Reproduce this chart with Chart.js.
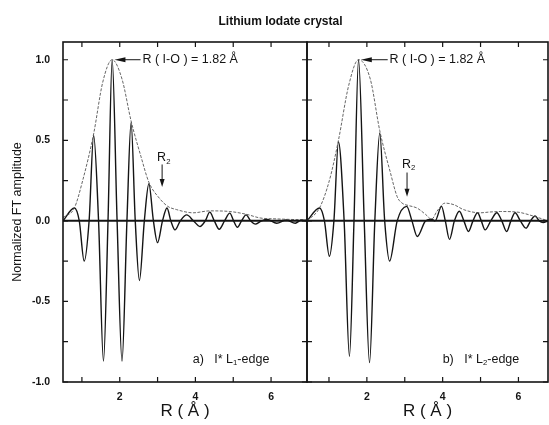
<!DOCTYPE html>
<html>
<head>
<meta charset="utf-8">
<script src="https://cdn.jsdelivr.net/npm/chart.js@4.4.1/dist/chart.umd.min.js"></script>
<style>
  html, body { margin: 0; padding: 0; background: #fff; }
  #wrap { position: relative; width: 549px; height: 425px; }
  #wrap canvas { position: absolute; left: 0; top: 0; }
  #title {
    position: absolute; left: 6px; top: 14px; width: 549px; text-align: center;
    font: bold 12px "Liberation Sans", Arial, sans-serif; color: #111;
  }
</style>
</head>
<body>
<div id="wrap">
  <canvas id="panelA" width="549" height="425"></canvas>
  <canvas id="panelB" width="549" height="425"></canvas>
  <div id="title">Lithium Iodate crystal</div>
</div>
<script>
// a) I* L1-edge : imaginary part (oscillating) and magnitude (envelope)
const rL1 = [0.50, 0.80, 0.93, 1.06, 1.19, 1.31, 1.44, 1.57, 1.69, 1.80, 1.93, 2.06, 2.19, 2.30, 2.41, 2.52,
  2.65, 2.77, 2.89, 3.00, 3.13, 3.25, 3.35, 3.46, 3.60, 3.77, 3.95, 4.12, 4.26, 4.38, 4.50, 4.63, 4.77,
  4.91, 5.01, 5.11, 5.22, 5.34, 5.46, 5.58, 5.75, 5.90, 6.15, 6.40, 6.64, 6.80, 6.95];
const imL1 = [0.00, 0.08, 0.00, -0.25, 0.00, 0.53, 0.00, -0.87, 0.00, 1.00, 0.00, -0.87, 0.00, 0.61, 0.00, -0.37,
  0.00, 0.23, 0.00, -0.135, 0.00, 0.08, 0.00, -0.056, 0.00, 0.037, 0.00, -0.035, 0.00, 0.054, 0.00, -0.052, 0.00,
  0.048, 0.00, -0.04, 0.00, 0.037, 0.00, -0.02, 0.00, 0.008, -0.015, 0.006, -0.015, 0.005, 0.00];
const envRL1 = [0.50, 0.80, 1.02, 1.31, 1.55, 1.80, 2.06, 2.30, 2.56, 2.77, 3.05, 3.27, 3.50, 3.94, 4.38, 4.91,
  5.36, 5.71, 6.15, 6.95];
const envL1 = [0.02, 0.08, 0.25, 0.54, 0.86, 1.00, 0.88, 0.62, 0.40, 0.24, 0.14, 0.09, 0.07, 0.05, 0.062, 0.058,
  0.04, 0.018, 0.012, 0.006];

// b) I* L2-edge
const rL2 = [0.42, 0.75, 0.88, 1.01, 1.13, 1.25, 1.40, 1.54, 1.66, 1.78, 1.93, 2.07, 2.21, 2.34, 2.47, 2.60,
  2.80, 3.05, 3.19, 3.33, 3.55, 3.71, 3.80, 3.97, 4.07, 4.18, 4.31, 4.44, 4.56, 4.68, 4.80, 4.92, 5.02,
  5.12, 5.27, 5.43, 5.56, 5.69, 5.80, 5.91, 6.05, 6.20, 6.32, 6.44, 6.55, 6.65, 6.78];
const imL2 = [0.00, 0.08, 0.00, -0.22, 0.00, 0.49, 0.00, -0.84, 0.00, 1.00, 0.00, -0.88, 0.00, 0.545, 0.00, -0.25,
  0.00, 0.09, 0.00, -0.097, 0.00, 0.01, 0.00, 0.09, 0.00, -0.115, 0.00, 0.06, 0.00, -0.066, 0.00, 0.05, 0.00,
  -0.056, 0.00, 0.05, 0.00, -0.066, 0.00, 0.05, 0.00, -0.045, 0.00, 0.03, 0.00, -0.01, 0.00];
const envRL2 = [0.42, 0.75, 1.01, 1.25, 1.52, 1.78, 2.09, 2.34, 2.62, 2.80, 2.93, 3.10, 3.32, 3.55, 3.71, 3.85,
  4.06, 4.30, 4.55, 4.99, 5.25, 5.52, 5.95, 6.39, 6.78];
const envL2 = [0.00, 0.08, 0.25, 0.50, 0.84, 1.00, 0.88, 0.56, 0.30, 0.15, 0.11, 0.095, 0.08, 0.04, 0.01, 0.06,
  0.11, 0.10, 0.07, 0.05, 0.055, 0.058, 0.055, 0.03, 0.00];

const yTicks = [-1.0, -0.75, -0.5, -0.25, 0.0, 0.25, 0.5, 0.75, 1.0];
const xLabels = [2, 4, 6];

const FONT = '"Liberation Sans", Arial, sans-serif';
const INK = '#141414';

function pts(xs, ys) {
  return xs.map((x, i) => ({ x: x, y: ys[i] }));
}

// draws text pieces, some as subscripts
function drawParts(ctx, parts, x, y, size) {
  let cx = x;
  parts.forEach(([txt, sub]) => {
    ctx.font = (sub ? size * 0.62 : size) + 'px ' + FONT;
    ctx.fillText(txt, cx, sub ? y + size * 0.28 : y);
    cx += ctx.measureText(txt).width;
  });
}

const frameTicks = {
  id: 'frameTicks',
  afterDatasetsDraw(chart) {
    const { ctx, chartArea: a, scales: { x, y } } = chart;
    ctx.save();
    ctx.strokeStyle = INK;
    ctx.lineWidth = 1.2;
    ctx.beginPath();
    x.ticks.forEach(t => {
      const px = x.getPixelForValue(t.value);
      ctx.moveTo(px, a.bottom); ctx.lineTo(px, a.bottom - 5);
      ctx.moveTo(px, a.top); ctx.lineTo(px, a.top + 5);
    });
    yTicks.forEach(v => {
      const py = y.getPixelForValue(v);
      ctx.moveTo(a.left, py); ctx.lineTo(a.left + 5, py);
      ctx.moveTo(a.right, py); ctx.lineTo(a.right - 5, py);
    });
    ctx.stroke();
    ctx.lineWidth = 1.6;
    ctx.strokeRect(a.left, a.top, a.right - a.left, a.bottom - a.top);
    ctx.restore();
  }
};

const notes = {
  id: 'notes',
  afterDraw(chart, args, o) {
    const { ctx, scales: { x, y } } = chart;
    ctx.save();
    ctx.fillStyle = INK;
    ctx.strokeStyle = INK;
    ctx.textBaseline = 'middle';
    ctx.lineWidth = 1;

    // peak label with arrow pointing at the maximum
    const py = y.getPixelForValue(o.peak.y);
    const x1 = x.getPixelForValue(o.peak.from), x2 = x.getPixelForValue(o.peak.to);
    ctx.beginPath(); ctx.moveTo(x1, py); ctx.lineTo(x2 + 6, py); ctx.stroke();
    ctx.beginPath(); ctx.moveTo(x2, py); ctx.lineTo(x2 + 11, py - 2.5); ctx.lineTo(x2 + 11, py + 2.5); ctx.closePath(); ctx.fill();
    ctx.font = '12.5px ' + FONT;
    ctx.fillText('R ( I-O ) = 1.82 Å', x.getPixelForValue(o.peak.text), py);

    // R2 marker
    const rx = x.getPixelForValue(o.r2.x);
    drawParts(ctx, [['R', false], ['2', true]], rx - 5, y.getPixelForValue(o.r2.text), 12.5);
    const ya = y.getPixelForValue(o.r2.from), yb = y.getPixelForValue(o.r2.to);
    ctx.beginPath(); ctx.moveTo(rx, ya); ctx.lineTo(rx, yb - 4); ctx.stroke();
    ctx.beginPath(); ctx.moveTo(rx, yb); ctx.lineTo(rx - 2.5, yb - 8); ctx.lineTo(rx + 2.5, yb - 8); ctx.closePath(); ctx.fill();

    // panel label
    drawParts(ctx, [[o.edge.tag + '   I* L', false], [o.edge.sub, true], ['-edge', false]],
      x.getPixelForValue(o.edge.x), y.getPixelForValue(o.edge.y), 12.5);
    ctx.restore();
  }
};

function panel(id, conf) {
  return new Chart(document.getElementById(id), {
    type: 'line',
    data: {
      datasets: [
        {
          data: [{ x: conf.min, y: 0 }, { x: conf.max, y: 0 }],
          borderColor: INK, borderWidth: 2, pointRadius: 0
        },
        {
          data: pts(conf.envR, conf.env),
          borderColor: '#555', borderWidth: 0.9, borderDash: [3, 1.5], pointRadius: 0,
          cubicInterpolationMode: 'monotone'
        },
        {
          data: pts(conf.r, conf.im),
          borderColor: INK, borderWidth: 1.4, pointRadius: 0,
          cubicInterpolationMode: 'monotone'
        }
      ]
    },
    options: {
      responsive: false,
      animation: false,
      events: [],
      layout: { padding: conf.padding },
      plugins: { legend: { display: false }, tooltip: { enabled: false }, notes: conf.notes },
      scales: {
        x: {
          type: 'linear', min: conf.min, max: conf.max,
          afterFit: s => { s.height = 43; },
          grid: { display: false, drawTicks: false },
          border: { display: false },
          ticks: {
            stepSize: 1, includeBounds: false, autoSkip: false, maxRotation: 0, padding: 9,
            color: INK, font: { family: FONT, size: 10.5, weight: 'bold' },
            callback: v => xLabels.includes(v) ? String(v) : ''
          },
          title: {
            display: true, text: 'R ( Å )', color: INK,
            font: { family: FONT, size: 17 }, padding: { top: 0, bottom: 3 }
          }
        },
        y: {
          min: -1.0, max: 1.11,
          afterFit: s => { s.width = conf.yWidth; },
          grid: { display: false, drawTicks: false },
          border: { display: false },
          ticks: {
            display: conf.yLabels, stepSize: 0.25, includeBounds: false, autoSkip: false, padding: 13,
            color: INK, font: { family: FONT, size: 10.5, weight: 'bold' },
            callback: v => (Math.abs(v * 2 - Math.round(v * 2)) < 1e-6) ? v.toFixed(1) : ''
          },
          title: {
            display: conf.yLabels, text: 'Normalized FT amplitude', color: INK,
            font: { family: FONT, size: 12.5 }, padding: { top: 10, bottom: 0 }
          }
        }
      }
    },
    plugins: [frameTicks, notes]
  });
}

panel('panelA', {
  r: rL1, im: imL1, envR: envRL1, env: envL1,
  min: 0.5, max: 6.95, yWidth: 63, yLabels: true,
  padding: { left: 0, right: 242, top: 42, bottom: 0 },
  notes: {
    peak: { y: 1.0, from: 2.55, to: 1.86, text: 2.6 },
    r2: { x: 3.12, text: 0.39, from: 0.35, to: 0.21 },
    edge: { tag: 'a)', sub: '1', x: 3.93, y: -0.86 }
  }
});

panel('panelB', {
  r: rL2, im: imL2, envR: envRL2, env: envL2,
  min: 0.42, max: 6.78, yWidth: 0, yLabels: false,
  padding: { left: 307, right: 1, top: 42, bottom: 0 },
  notes: {
    peak: { y: 1.0, from: 2.55, to: 1.84, text: 2.6 },
    r2: { x: 3.06, text: 0.35, from: 0.30, to: 0.15 },
    edge: { tag: 'b)', sub: '2', x: 4.0, y: -0.86 }
  }
});
</script>
</body>
</html>
